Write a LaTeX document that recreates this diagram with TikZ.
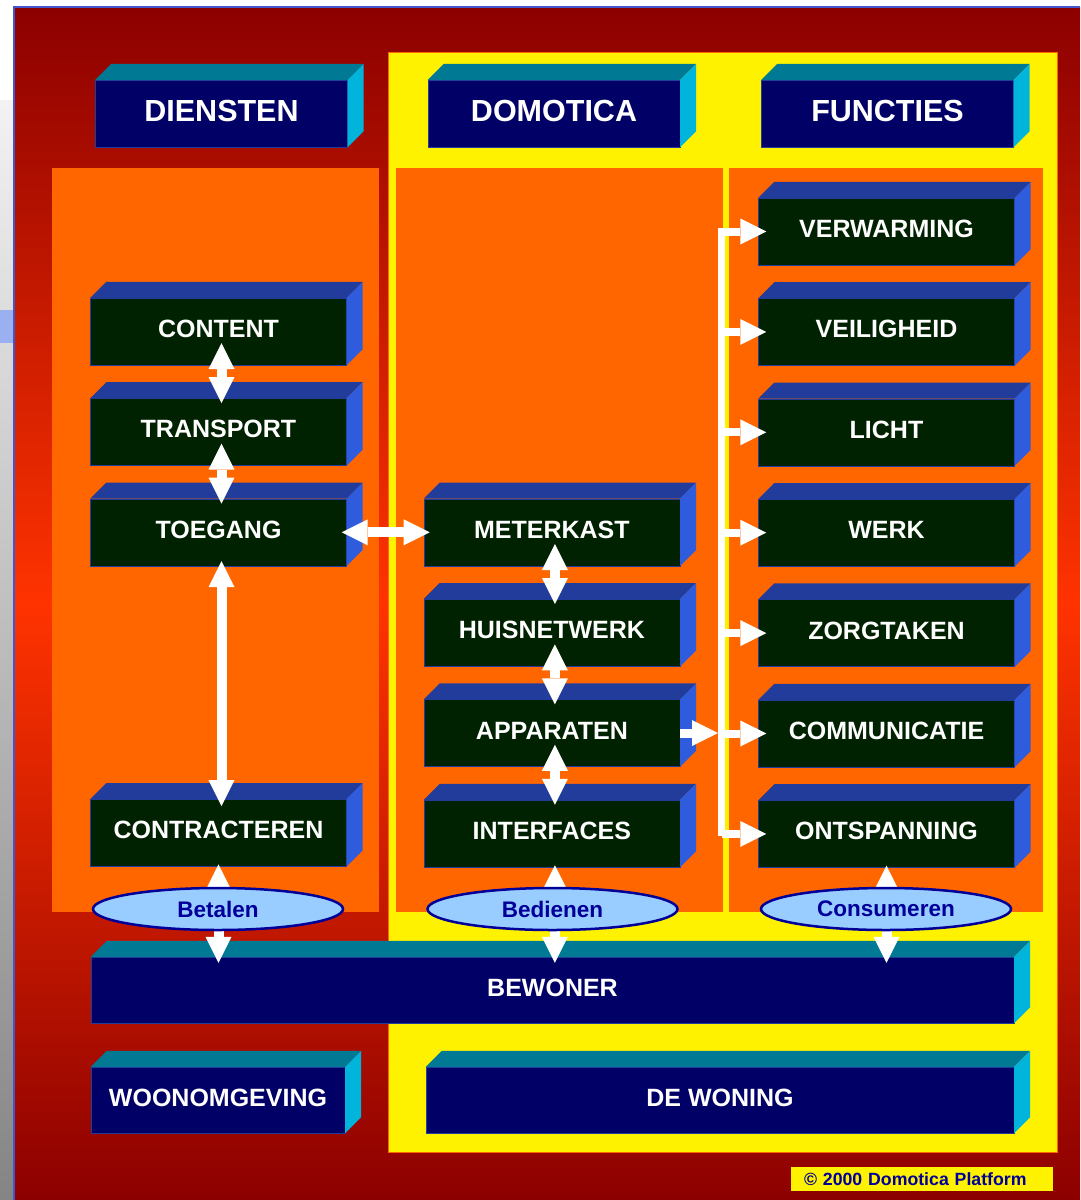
\documentclass[tikz,border=0pt]{standalone}
\usepackage{fontspec}
\setmainfont{Liberation Sans}
\usetikzlibrary{positioning,arrows.meta}
\usetikzlibrary{shapes.geometric}
\definecolor{deepred}{HTML}{8C0000}
\definecolor{brightred}{HTML}{FF3300}
\definecolor{edgeblue}{HTML}{4455CC}
\definecolor{gridblue}{HTML}{9AB0F0}
\definecolor{panelorange}{HTML}{FF6600}
\definecolor{panelyellow}{HTML}{FFF200}
\definecolor{navyfront}{HTML}{000066}
\definecolor{tealtop}{HTML}{007A94}
\definecolor{cyanside}{HTML}{00B4DC}
\definecolor{greenfront}{HTML}{002200}
\definecolor{bluetop}{HTML}{213C9B}
\definecolor{blueside}{HTML}{2F5BDD}
\definecolor{ovalfill}{HTML}{99CCFF}
\definecolor{ovalline}{HTML}{000099}
\tikzstyle{head}=[draw=bluetop, fill=navyfront, text=white, font=\bfseries\fontsize{30.5}{36}\selectfont, text height=22pt, text depth=5.6pt, minimum width=252pt, minimum height=67pt, inner sep=0pt]
\tikzstyle{base}=[head, font=\bfseries\fontsize{25}{30}\selectfont, text height=18pt, text depth=5pt, minimum height=66pt]
\tikzstyle{blok}=[draw=bluetop, fill=greenfront, text=white, font=\bfseries\fontsize{25}{30}\selectfont, text height=18pt, text depth=6pt, minimum width=256pt, minimum height=67pt, inner sep=0pt]
\tikzstyle{oval}=[ellipse, draw=ovalline, line width=2.5pt, fill=ovalfill, text=ovalline, font=\bfseries\fontsize{22.5}{26}\selectfont, minimum width=250pt, minimum height=42pt, inner sep=0pt]
\tikzstyle{dbl}=[<->, white, line width=10pt]
\tikzstyle{branch}=[->, white, line width=8pt]
% top and side face of a block
\newcommand{\blokfaces}[3]{%
  \fill[#2] (#1.north west) -- ++(16,-16) -- ([shift={(16,-16)}]#1.north east) -- (#1.north east) -- cycle;
  \fill[#3] (#1.north east) -- ++(16,-16) -- ([shift={(16,-16)}]#1.south east) -- (#1.south east) -- cycle;}

\begin{document}
\begin{tikzpicture}[x=1pt, y=-1pt, >={Triangle[width=26pt,length=26pt,line width=0pt]}]
\useasboundingbox (0,0) rectangle (1080,1200);
% background
\fill[white] (0,0) rectangle (1080,1200);
\shade[top color=black!5, bottom color=black!48] (0,100) rectangle (14,1200);
\fill[gridblue] (0,310) rectangle (13,343);
\shade[top color=deepred, bottom color=deepred, middle color=brightred] (14,7) rectangle (1080,1200);
\draw[edgeblue, line width=1.2pt] (14,1200) -- (14,7) -- (1080,7);
\filldraw[fill=panelyellow, draw=panelorange] (388,52) rectangle (1057,1152);
\fill[panelorange] (52,168) rectangle (379,912);
\fill[panelorange] (396,168) rectangle (723,912);
\fill[panelorange] (729,168) rectangle (1043,912);

\node[head] (diensten) at (221.5,113.5) {DIENSTEN};
\node[head] (domotica) at (554,113.5) {DOMOTICA};
\node[head] (functies) at (887.5,113.5) {FUNCTIES};

\node[blok] (content) at (218.5,331.5) {CONTENT};
\node[blok, below=33pt of content] (transport) {TRANSPORT};
\node[blok, below=33pt of transport] (toegang) {TOEGANG};
\node[blok, below=233pt of toegang] (contracteren) {CONTRACTEREN};

\node[blok, right=77pt of toegang] (meterkast) {METERKAST};
\node[blok, below=33pt of meterkast] (huisnetwerk) {HUISNETWERK};
\node[blok, below=33pt of huisnetwerk] (apparaten) {APPARATEN};
\node[blok, below=33pt of apparaten] (interfaces) {INTERFACES};

\node[blok] (verwarming) at (886.5,231.5) {VERWARMING};
\node[blok, below=33pt of verwarming] (veiligheid) {VEILIGHEID};
\node[blok, below=33pt of veiligheid] (licht) {LICHT};
\node[blok, below=33pt of licht] (werk) {WERK};
\node[blok, below=33pt of werk] (zorgtaken) {ZORGTAKEN};
\node[blok, below=33pt of zorgtaken] (communicatie) {COMMUNICATIE};
\node[blok, below=33pt of communicatie] (ontspanning) {ONTSPANNING};

\node[base, minimum width=923pt] (bewoner) at (552.5,990) {BEWONER};
\node[base, minimum width=254pt] (woonomgeving) at (218,1100) {WOONOMGEVING};
\node[base, minimum width=588pt] (dewoning) at (720,1100) {DE WONING};

\foreach \n in {diensten,domotica,functies,bewoner,woonomgeving,dewoning}
  {\blokfaces{\n}{tealtop}{cyanside}}
\foreach \n in {content,transport,toegang,contracteren,meterkast,huisnetwerk,apparaten,interfaces,verwarming,veiligheid,licht,werk,zorgtaken,communicatie,ontspanning}
  {\blokfaces{\n}{bluetop}{blueside}}

% arrows
\foreach \a/\b in {content/transport,transport/toegang,meterkast/huisnetwerk,huisnetwerk/apparaten,apparaten/interfaces}
  \draw[dbl, shorten <=-22pt, shorten >=-5pt] ([xshift=3pt]\a.south) -- ([xshift=3pt]\b.north);
\draw[dbl, shorten <=-5pt, shorten >=-7pt] ([xshift=3pt]toegang.south) -- ([xshift=3pt]contracteren.north);
\draw[dbl, shorten <=-5pt, shorten >=-6pt] (toegang.east) -- (meterkast.west);

\coordinate (bustop) at (721.5,227.5);
\coordinate (busbot) at (721.5,835.5);
\draw[white, line width=7pt] (bustop) -- (busbot);
\foreach \n in {verwarming,veiligheid,licht,werk,zorgtaken,communicatie,ontspanning}
  \draw[branch, shorten >=-8pt] (bustop |- \n.west) -- (\n.west);
\draw[branch, line width=9pt, shorten >=3.5pt] (apparaten.east) -- (bustop |- apparaten.east);

\draw[dbl, shorten <=-2pt, shorten >=-6pt] (contracteren.south) -- (contracteren.south |- bewoner.north);
\draw[dbl, shorten <=-2pt, shorten >=-6pt] ([xshift=3pt]interfaces.south) -- ([xshift=3pt]interfaces.south |- bewoner.north);
\draw[dbl, shorten <=-2pt, shorten >=-6pt] (ontspanning.south) -- (ontspanning.south |- bewoner.north);

\node[oval] (betalen) at (218,909) {Betalen};
\node[oval] (bedienen) at (552.5,909) {Bedienen};
\node[oval] (consumeren) at (886,909) {Consumeren};

\node[fill=yellow, text=ovalline, font=\bfseries\fontsize{17.7}{20}\selectfont, minimum width=262pt, minimum height=24pt, inner sep=0pt, text width=236pt, align=left] (copyright) at (922,1179) {\textcopyright{} 2000 Domotica Platform};

\end{tikzpicture}
\end{document}
